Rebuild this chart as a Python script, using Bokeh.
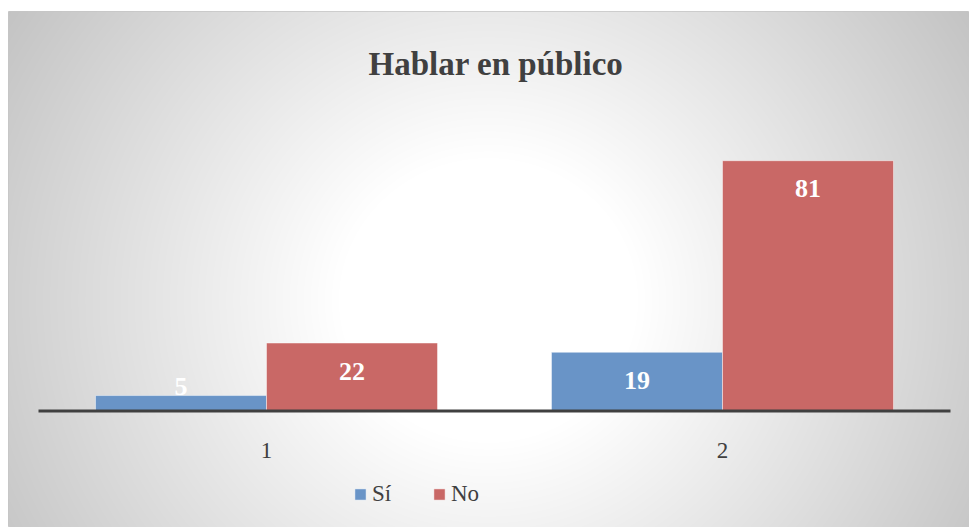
import numpy as np
from bokeh.plotting import figure
from bokeh.models import Range1d, Legend, LegendItem, ColumnDataSource
from bokeh.core.properties import value
from bokeh.embed import file_html
from bokeh.resources import INLINE

# ---- data ----
title_text = "Hablar en público"
categories = ["1", "2"]
series_names = ["Sí", "No"]
si_values = [5, 19]
no_values = [22, 81]

# ---- layout constants (pixels in the plot frame) ----
W, H = 961, 516
LEFT_PAD, TOP_PAD = 8, 11
PX_CAT = 456.0       # pixels per category
AXIS_LEFT = 30.0     # frame x of the axis start
BASE_Y = 399.5       # frame y (from top) of value 0
PX_UNIT = 3.09       # pixels per value unit
BAR_W = 0.375
FONT = "Liberation Serif"


def fx(px):
    return (px - AXIS_LEFT) / PX_CAT


def fy(py):
    return (BASE_Y - py) / PX_UNIT


p = figure(width=W + LEFT_PAD, height=H + TOP_PAD, title=None,
           x_range=Range1d(fx(0), fx(W)), y_range=Range1d(fy(H), fy(0)),
           x_axis_type=None, y_axis_type=None,
           toolbar_location=None, output_backend="svg",
           min_border=0, min_border_top=TOP_PAD, min_border_left=LEFT_PAD)
p.border_fill_color = "white"
p.outline_line_color = "#c6c6c6"
p.outline_line_width = 1

# ---- radial gradient background ----
ys_page = TOP_PAD + np.arange(H)[::-1] + 0.5
xs_page = LEFT_PAD + np.arange(W) + 0.5
X, Y = np.meshgrid(xs_page, ys_page)
r = np.hypot(X - 488, (Y - 300) * 1.05)
c = 255 - 0.142 * np.clip(r - 150, 0, None)
c = np.clip(c, 192, 255).astype(np.uint32)
img = (np.uint32(255) << 24) | (c << 16) | (c << 8) | c
p.image_rgba(image=[img], x=fx(0), y=fy(H), dw=fx(W) - fx(0), dh=fy(0) - fy(H))

# ---- bars ----
centers = np.arange(len(categories)) + 0.5
src = ColumnDataSource(dict(
    xs=centers - BAR_W / 2, xn=centers + BAR_W / 2,
    si=si_values, no=no_values))
r_si = p.vbar(x="xs", top="si", bottom=0, width=BAR_W, source=src,
              fill_color="#6994C7", line_color="white", line_alpha=0.45, line_width=1)
r_no = p.vbar(x="xn", top="no", bottom=0, width=BAR_W, source=src,
              fill_color="#C96866", line_color="white", line_alpha=0.45, line_width=1)

# ---- baseline ----
p.line(x=[0, len(categories)], y=[0, 0], line_color="#404040", line_width=3)

# ---- data labels ----
lab_x, lab_y, lab_t, lab_off = [], [], [], []
for xs_arr, vals in ((centers - BAR_W / 2, si_values), (centers + BAR_W / 2, no_values)):
    for xv, v in zip(xs_arr, vals):
        h = v * PX_UNIT
        lab_x.append(xv)
        lab_y.append(v)
        lab_t.append(str(v))
        lab_off.append(28 if h > 40 else h - 25)
p.text(x=lab_x, y=lab_y, text=lab_t, y_offset=lab_off,
       text_font=value(FONT), text_font_style="bold", text_font_size="26px",
       text_color="white", text_align="center", text_baseline="middle")

# ---- category labels ----
p.text(x=list(centers), y=[0] * len(categories), text=categories, y_offset=39,
       text_font=value(FONT), text_font_size="23px", text_color="#404040",
       text_align="center", text_baseline="alphabetic")

# ---- title ----
p.text(x=[fx(487.5)], y=[fy(52)], text=[title_text],
       text_font=value(FONT), text_font_style="bold", text_font_size="33px",
       text_color="#404040", text_align="center", text_baseline="alphabetic")

# ---- legend ----
legend = Legend(items=[LegendItem(label=series_names[0], renderers=[r_si]),
                       LegendItem(label=series_names[1], renderers=[r_no])],
                orientation="horizontal", location=(345, 20),
                glyph_width=14, glyph_height=14, label_standoff=5, spacing=40,
                padding=0, margin=0, border_line_alpha=0, background_fill_alpha=0,
                label_text_font=FONT, label_text_font_size="23px",
                label_text_color="#404040")
p.add_layout(legend)

open("out.html", "w").write(file_html(p, INLINE))
